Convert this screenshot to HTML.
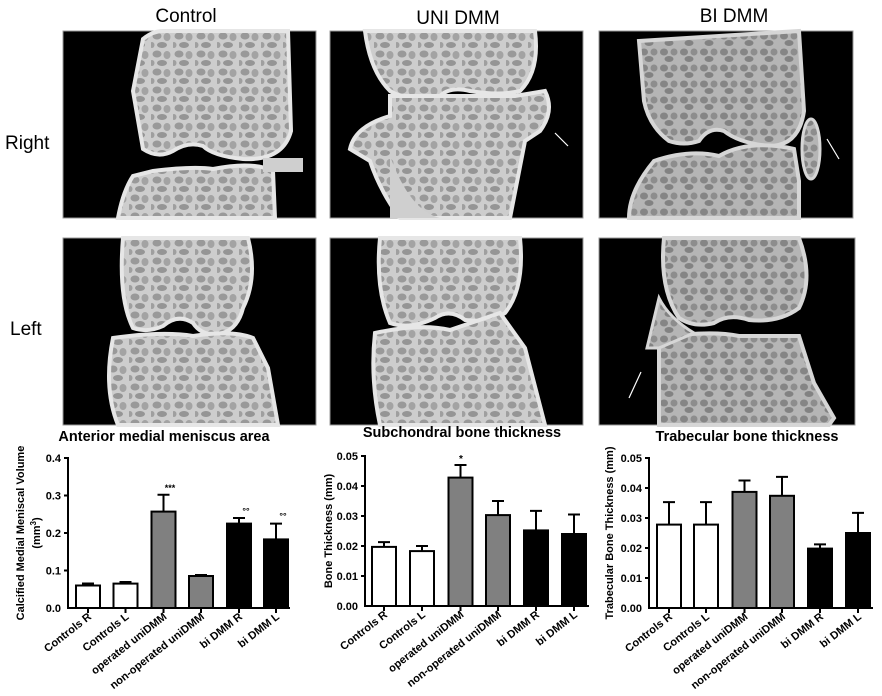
<!DOCTYPE html>
<html><head><meta charset="utf-8"><style>
body{margin:0;background:#fff;}
svg{display:block;font-family:"Liberation Sans",sans-serif;}
.t{font-family:"Liberation Sans",sans-serif;font-size:19px;}
.b{font-weight:bold;font-size:11px;}
.h{font-weight:bold;font-size:14.5px;}
</style></head><body>
<svg width="882" height="696" viewBox="0 0 882 696" xmlns="http://www.w3.org/2000/svg">
<defs>
<pattern id="tr" width="22" height="18" patternUnits="userSpaceOnUse">
<rect width="22" height="18" fill="#cdcdcd"/>
<ellipse cx="6" cy="5" rx="4.5" ry="3.5" fill="#999"/>
<ellipse cx="16" cy="6" rx="3.5" ry="4" fill="#a3a3a3"/>
<ellipse cx="11" cy="14" rx="5" ry="3" fill="#959595"/>
<ellipse cx="1" cy="14" rx="2.5" ry="3" fill="#9f9f9f"/>
</pattern>
<pattern id="tr2" width="20" height="16" patternUnits="userSpaceOnUse">
<rect width="20" height="16" fill="#b5b5b5"/>
<ellipse cx="5" cy="5" rx="4" ry="3.5" fill="#858585"/>
<ellipse cx="15" cy="5" rx="3.5" ry="3.5" fill="#8d8d8d"/>
<ellipse cx="10" cy="12" rx="4.5" ry="3" fill="#828282"/>
</pattern>
</defs>
<rect width="882" height="696" fill="#fff"/>
<text class="t" x="186" y="22" text-anchor="middle">Control</text>
<text class="t" x="458" y="24" text-anchor="middle">UNI DMM</text>
<text class="t" x="734" y="22" text-anchor="middle">BI DMM</text>
<text class="t" x="5" y="149">Right</text>
<text class="t" x="10" y="335">Left</text>

<g transform="translate(63,31)">
<rect width="253" height="187" fill="#000" stroke="#999"/>
<path d="M80,8 Q90,0 100,0 L225,0 L228,100 Q220,130 180,128 Q150,125 140,115 Q125,110 110,120 Q95,128 80,118 L70,60 Z" fill="url(#tr)" stroke="#e6e6e6" stroke-width="4"/>
<path d="M90,140 Q130,135 150,138 Q190,130 210,140 L212,187 L55,187 Q60,160 70,145 Z" fill="url(#tr)" stroke="#e6e6e6" stroke-width="4"/>
<rect x="200" y="127" width="40" height="14" fill="#cfcfcf"/>
</g>
<g transform="translate(330,31)">
<rect width="253" height="187" fill="#000" stroke="#999"/>
<path d="M35,0 L205,0 Q210,40 190,60 Q170,65 140,60 Q120,55 110,65 Q80,72 60,60 Q40,40 35,0 Z" fill="url(#tr)" stroke="#e6e6e6" stroke-width="4"/>
<path d="M60,65 L185,65 L215,60 Q225,80 210,100 L195,110 L180,187 L70,187 Q50,160 40,130 L20,118 Q25,95 60,85 Z" fill="url(#tr)" stroke="#e6e6e6" stroke-width="4"/>
<path d="M60,125 Q80,180 110,187 L60,187 Z" fill="#cfcfcf"/>
<line x1="225" y1="102" x2="238" y2="115" stroke="#fff" stroke-width="1.2"/>
</g>
<g transform="translate(599,31)">
<rect width="254" height="187" fill="#000" stroke="#999"/>
<path d="M40,10 L200,0 L205,80 Q200,115 170,115 Q140,112 125,100 Q110,95 100,110 Q85,115 70,110 Q50,95 45,70 Z" fill="url(#tr2)" stroke="#d6d6d6" stroke-width="4"/>
<path d="M55,130 Q90,118 120,125 Q150,108 195,118 L200,150 L200,187 L30,187 Q30,160 55,130 Z" fill="url(#tr2)" stroke="#d6d6d6" stroke-width="4"/>
<ellipse cx="212" cy="118" rx="9" ry="30" fill="url(#tr2)" stroke="#d6d6d6" stroke-width="3"/>
<line x1="228" y1="108" x2="240" y2="128" stroke="#fff" stroke-width="1.2"/>
</g>
<g transform="translate(63,238)">
<rect width="253" height="187" fill="#000" stroke="#999"/>
<path d="M60,0 L185,0 Q195,40 180,70 Q175,90 160,95 Q140,100 130,85 Q115,75 100,88 Q85,95 70,90 Q55,60 60,0 Z" fill="url(#tr)" stroke="#e6e6e6" stroke-width="4"/>
<path d="M50,100 Q100,93 130,98 Q170,92 190,100 L205,130 L215,187 L55,187 Q40,150 50,100 Z" fill="url(#tr)" stroke="#e6e6e6" stroke-width="4"/>
</g>
<g transform="translate(330,238)">
<rect width="253" height="187" fill="#000" stroke="#999"/>
<path d="M50,0 L190,0 Q195,50 175,75 Q160,85 135,82 Q120,70 105,80 Q80,92 60,85 Q45,50 50,0 Z" fill="url(#tr)" stroke="#e6e6e6" stroke-width="4"/>
<path d="M45,95 Q90,85 120,92 L170,75 L195,110 L215,187 L50,187 Q40,140 45,95 Z" fill="url(#tr)" stroke="#e6e6e6" stroke-width="4"/>
</g>
<g transform="translate(599,238)">
<rect width="256" height="187" fill="#000" stroke="#999"/>
<path d="M65,0 L200,0 Q215,40 200,70 Q180,85 150,82 Q130,75 115,85 Q95,90 80,80 Q60,50 65,0 Z" fill="url(#tr2)" stroke="#d6d6d6" stroke-width="4"/>
<path d="M60,100 Q110,92 140,98 L200,98 L215,145 L235,180 L230,187 L60,187 Z" fill="url(#tr2)" stroke="#d6d6d6" stroke-width="4"/>
<path d="M48,110 L60,60 Q70,80 95,95 L60,110 Z" fill="url(#tr2)" stroke="#d6d6d6" stroke-width="3"/>
<line x1="30" y1="160" x2="42" y2="134" stroke="#fff" stroke-width="1.2"/>
</g>

<g stroke="#000" stroke-width="2" fill="none">
<text class="h" x="164" y="441" text-anchor="middle" fill="#000" stroke="none">Anterior medial meniscus area</text>
<line x1="68" y1="457" x2="68" y2="608"/>
<line x1="67" y1="608" x2="290" y2="608"/>
<line x1="64" y1="458" x2="68" y2="458"/><line x1="64" y1="495.5" x2="68" y2="495.5"/><line x1="64" y1="533" x2="68" y2="533"/><line x1="64" y1="570.5" x2="68" y2="570.5"/>
<rect x="76" y="585.5" width="24" height="22.5" fill="#fff"/>
<rect x="113.5" y="583.6" width="24" height="24.4" fill="#fff"/>
<rect x="151.5" y="511.6" width="24" height="96.4" fill="#808080"/>
<rect x="189" y="576" width="24" height="32" fill="#808080"/>
<rect x="227" y="523.6" width="24" height="84.4" fill="#000"/>
<rect x="264" y="539.4" width="24" height="68.6" fill="#000"/>
<path d="M88,585.5V583.5M82,583.5H94M125.5,583.6V582M119.5,582H131.5M163.5,511.6V494.7M157.5,494.7H169.5M201,576V575M195,575H207M239,523.6V518M233,518H245M276,539.4V523.6M270,523.6H282"/>
<path d="M88,608V613M125.5,608V613M163.5,608V613M201,608V613M239,608V613M276,608V613"/>
</g>
<g class="b" text-anchor="end" fill="#000">
<text x="61" y="462">0.4</text><text x="61" y="499.5">0.3</text><text x="61" y="537">0.2</text><text x="61" y="574.5">0.1</text><text x="61" y="612">0.0</text>
<text x="170" y="491" text-anchor="middle" font-size="9">***</text>
<text x="246" y="514" text-anchor="middle" font-size="9">°°</text>
<text x="283" y="519" text-anchor="middle" font-size="9">°°</text>
<text transform="translate(24,533) rotate(-90)" text-anchor="middle">Calcified Medial Meniscal Volume</text>
<text transform="translate(40,533) rotate(-90)" text-anchor="middle">(mm<tspan dy="-4" font-size="8">3</tspan><tspan dy="4">)</tspan></text>
<text transform="translate(92,618) rotate(-38)">Controls R</text>
<text transform="translate(129.5,618) rotate(-38)">Controls L</text>
<text transform="translate(167.5,618) rotate(-38)">operated uniDMM</text>
<text transform="translate(205,618) rotate(-38)">non-operated uniDMM</text>
<text transform="translate(243,618) rotate(-38)">bi DMM R</text>
<text transform="translate(280,618) rotate(-38)">bi DMM L</text>
</g>

<g stroke="#000" stroke-width="2" fill="none">
<text class="h" x="462" y="437" text-anchor="middle" fill="#000" stroke="none">Subchondral bone thickness</text>
<line x1="365" y1="455" x2="365" y2="606"/>
<line x1="364" y1="606" x2="589" y2="606"/>
<path d="M361,456H365M361,486H365M361,516H365M361,546H365M361,576H365"/>
<rect x="372" y="546.9" width="24" height="59.1" fill="#fff"/>
<rect x="410" y="551.1" width="24" height="54.9" fill="#fff"/>
<rect x="448.5" y="477.6" width="24" height="128.4" fill="#808080"/>
<rect x="486" y="515.1" width="24" height="90.9" fill="#808080"/>
<rect x="524" y="530.4" width="24" height="75.6" fill="#000"/>
<rect x="562" y="534" width="24" height="72" fill="#000"/>
<path d="M384,546.9V542.1M378,542.1H390M422,551.1V546M416,546H428M460.5,477.6V465M454.5,465H466.5M498,515.1V501M492,501H504M536,530.4V510.9M530,510.9H542M574,534V514.5M568,514.5H580"/>
<path d="M384,606V611M422,606V611M460.5,606V611M498,606V611M536,606V611M574,606V611"/>
</g>
<g class="b" text-anchor="end" fill="#000">
<text x="358" y="460">0.05</text><text x="358" y="490">0.04</text><text x="358" y="520">0.03</text><text x="358" y="550">0.02</text><text x="358" y="580">0.01</text><text x="358" y="610">0.00</text>
<text x="461" y="462" text-anchor="middle" font-size="10">*</text>
<text transform="translate(332,531) rotate(-90)" text-anchor="middle">Bone Thickness (mm)</text>
<text transform="translate(388,616) rotate(-38)">Controls R</text>
<text transform="translate(426,616) rotate(-38)">Controls L</text>
<text transform="translate(464.5,616) rotate(-38)">operated uniDMM</text>
<text transform="translate(502,616) rotate(-38)">non-operated uniDMM</text>
<text transform="translate(540,616) rotate(-38)">bi DMM R</text>
<text transform="translate(578,616) rotate(-38)">bi DMM L</text>
</g>

<g stroke="#000" stroke-width="2" fill="none">
<text class="h" x="747" y="441" text-anchor="middle" fill="#000" stroke="none">Trabecular bone thickness</text>
<line x1="649" y1="457" x2="649" y2="608"/>
<line x1="648" y1="608" x2="873" y2="608"/>
<path d="M645,458H649M645,488H649M645,518H649M645,548H649M645,578H649"/>
<rect x="657" y="524.6" width="24" height="83.4" fill="#fff"/>
<rect x="694" y="524.6" width="24" height="83.4" fill="#fff"/>
<rect x="732.5" y="491.9" width="24" height="116.1" fill="#808080"/>
<rect x="770" y="495.8" width="24" height="112.2" fill="#808080"/>
<rect x="808" y="548.6" width="24" height="59.4" fill="#000"/>
<rect x="846" y="533" width="24" height="75" fill="#000"/>
<path d="M669,524.6V502.1M663,502.1H675M706,524.6V502.1M700,502.1H712M744.5,491.9V480.5M738.5,480.5H750.5M782,495.8V476.9M776,476.9H788M820,548.6V544.4M814,544.4H826M858,533V512.9M852,512.9H864"/>
<path d="M669,608V613M706,608V613M744.5,608V613M782,608V613M820,608V613M858,608V613"/>
</g>
<g class="b" text-anchor="end" fill="#000">
<text x="642" y="462">0.05</text><text x="642" y="492">0.04</text><text x="642" y="522">0.03</text><text x="642" y="552">0.02</text><text x="642" y="582">0.01</text><text x="642" y="612">0.00</text>
<text transform="translate(613,533) rotate(-90)" text-anchor="middle">Trabecular Bone Thickness (mm)</text>
<text transform="translate(673,618) rotate(-38)">Controls R</text>
<text transform="translate(710,618) rotate(-38)">Controls L</text>
<text transform="translate(748.5,618) rotate(-38)">operated uniDMM</text>
<text transform="translate(786,618) rotate(-38)">non-operated uniDMM</text>
<text transform="translate(824,618) rotate(-38)">bi DMM R</text>
<text transform="translate(862,618) rotate(-38)">bi DMM L</text>
</g>
</svg>
</body></html>
